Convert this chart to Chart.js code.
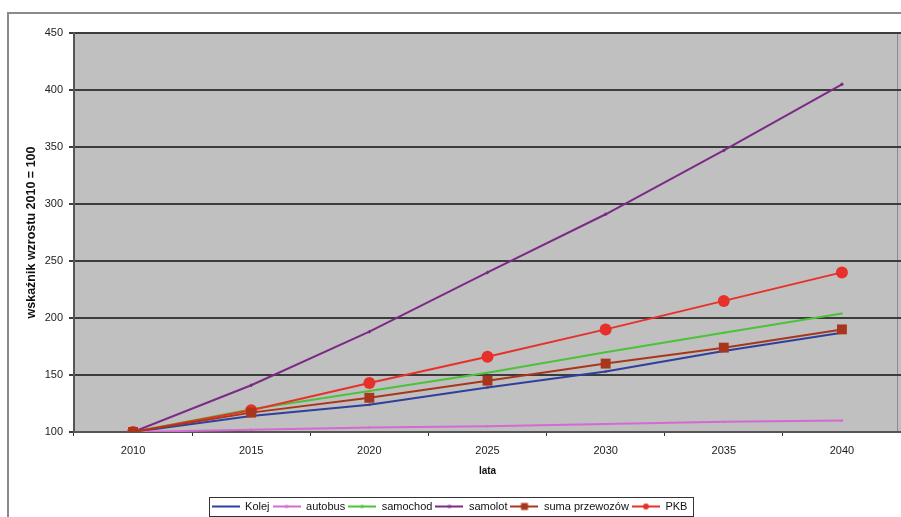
<!DOCTYPE html>
<html>
<head>
<meta charset="utf-8">
<script src="https://cdn.jsdelivr.net/npm/chart.js@4.4.1/dist/chart.umd.min.js"></script>
<style>
  html, body { margin: 0; padding: 0; background: #ffffff; }
  #wrap { width: 901px; height: 517px; }
</style>
</head>
<body>
<div id="wrap"><canvas id="c" width="901" height="517"></canvas></div>
<script>
// Growth index per mode of transport, 2010 = 100
const years = ['2010', '2015', '2020', '2025', '2030', '2035', '2040'];
const kolej = [100, 114, 124, 139, 153, 171, 187];
const autobus = [100, 102, 104, 105, 107, 109, 110];
const samochod = [100, 120, 136, 152, 170, 187, 204];
const samolot = [100, 141, 188, 240, 291, 347, 405];
const sumaPrzewozow = [100, 117, 130, 145, 160, 174, 190];
const pkb = [100, 119, 143, 166, 190, 215, 240];
const yTicks = [100, 150, 200, 250, 300, 350, 400, 450];

const FONT = '"Liberation Sans", Arial, sans-serif';
const SW = 28; // legend swatch width

// Small line-with-marker swatch used as the legend symbol
function swatch(color, marker, size) {
  const c = document.createElement('canvas');
  c.width = SW; c.height = 14;
  const x = c.getContext('2d');
  x.strokeStyle = color; x.lineWidth = 2;
  x.beginPath(); x.moveTo(0, 7); x.lineTo(SW, 7); x.stroke();
  x.fillStyle = color;
  if (marker === 'circle') {
    x.beginPath(); x.arc(SW / 2, 7, size, 0, Math.PI * 2); x.fill();
  } else {
    x.fillRect(SW / 2 - size, 7 - size, size * 2, size * 2);
  }
  return c;
}

const series = [
  { label: 'Kolej', data: kolej, color: '#2e3f9e', marker: 'rect', r: 1.5, lr: 1, order: 6 },
  { label: 'autobus', data: autobus, color: '#d46ad0', marker: 'rect', r: 1.5, lr: 1.5, order: 5 },
  { label: 'samochod', data: samochod, color: '#4cc23a', marker: 'triangle', r: 1.5, lr: 1.5, order: 4 },
  { label: 'samolot', data: samolot, color: '#7c2a86', marker: 'rectRot', r: 2, lr: 1.5, order: 3 },
  { label: 'suma przewozów', data: sumaPrzewozow, color: '#a8361c', marker: 'rect', r: 7, lr: 3.5, order: 1 },
  { label: 'PKB', data: pkb, color: '#e8302a', marker: 'circle', r: 6, lr: 3, order: 2 }
];

const swatches = series.map(s => swatch(s.color, s.marker === 'circle' ? 'circle' : 'rect', s.lr));

const frame = {
  id: 'frame',
  beforeDraw(chart) {
    const { ctx, chartArea: a } = chart;
    ctx.save();
    // outer chart box
    ctx.strokeStyle = '#8a8a8a';
    ctx.lineWidth = 2;
    ctx.strokeRect(8, 13, 920, 540);
    // plot area fill
    ctx.fillStyle = '#c0c0c0';
    ctx.fillRect(a.left, a.top, a.right - a.left, a.bottom - a.top);
    ctx.strokeStyle = '#8c8c8c';
    ctx.lineWidth = 1;
    ctx.strokeRect(a.left + 0.5, a.top + 0.5, a.right - a.left - 4, a.bottom - a.top);
    ctx.restore();
  },
  afterDraw(chart) {
    const lg = chart.legend;
    if (!lg || !lg.legendHitBoxes || !lg.legendHitBoxes.length) return;
    const boxes = lg.legendHitBoxes;
    const l = Math.min(...boxes.map(b => b.left)) - 3;
    const r = Math.max(...boxes.map(b => b.left + b.width)) + 5;
    const mid = boxes[0].top + boxes[0].height / 2;
    const ctx = chart.ctx;
    ctx.save();
    ctx.strokeStyle = '#333333';
    ctx.lineWidth = 1;
    ctx.strokeRect(Math.round(l) + 0.5, Math.round(mid - 10) + 0.5, Math.round(r - l), 19);
    ctx.restore();
  }
};

new Chart(document.getElementById('c'), {
  type: 'line',
  data: {
    labels: years,
    datasets: series.map(s => ({
      label: s.label,
      data: s.data,
      order: s.order,
      borderColor: s.color,
      backgroundColor: s.color,
      borderWidth: 2,
      pointStyle: s.marker,
      pointRadius: s.r,
      pointBorderWidth: 0,
      tension: 0,
      fill: false
    }))
  },
  options: {
    responsive: false,
    animation: false,
    layout: { autoPadding: false, padding: { top: 33, left: -2, right: 0, bottom: -5 } },
    plugins: {
      legend: {
        position: 'bottom',
        labels: {
          usePointStyle: true,
          pointStyleWidth: SW,
          padding: 3,
          color: '#111111',
          font: { family: FONT, size: 11 },
          generateLabels(chart) {
            return chart.data.datasets.map((d, i) => ({
              text: d.label,
              pointStyle: swatches[i],
              fillStyle: d.borderColor,
              strokeStyle: d.borderColor,
              lineWidth: 0,
              hidden: false,
              datasetIndex: i,
              fontColor: '#111111'
            }));
          }
        }
      },
      tooltip: { enabled: false }
    },
    scales: {
      x: {
        offset: true,
        grid: {
          offset: true,
          drawOnChartArea: false,
          drawTicks: true,
          tickLength: 4,
          color: '#333333',
          lineWidth: 1
        },
        border: { color: '#555555', width: 2 },
        ticks: { color: '#222222', font: { family: FONT, size: 11 }, padding: 8, maxRotation: 0 },
        title: { display: true, text: 'lata', color: '#111111', font: { family: FONT, size: 10, weight: 'bold' }, padding: { top: 4, bottom: 21 } },
        afterFit(scale) {
          scale.height = 66;
          scale.paddingLeft = 0;
          scale.paddingRight = 0;
        }
      },
      y: {
        min: 100,
        max: 450,
        afterBuildTicks(scale) { scale.ticks = yTicks.map(v => ({ value: v })); },
        grid: {
          color: '#3c3c3c',
          lineWidth: 2,
          drawTicks: true,
          tickLength: 5
        },
        border: { color: '#555555', width: 2 },
        ticks: { color: '#222222', font: { family: FONT, size: 11 }, padding: 6 },
        title: { display: true, text: 'wskaźnik wzrostu 2010 = 100', color: '#111111', font: { family: FONT, size: 12.5, weight: 'bold' }, padding: { top: 26, bottom: 6 } },
        afterFit(scale) {
          scale.width = 76;
          scale.paddingTop = 0;
          scale.paddingBottom = 0;
        }
      }
    }
  },
  plugins: [frame]
});
</script>
</body>
</html>
